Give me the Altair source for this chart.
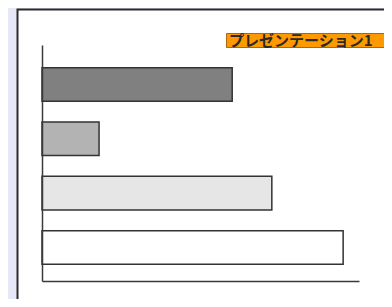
import altair as alt
import pandas as pd

categories = ["項目1", "項目2", "項目3", "項目4"]
values = [60, 18, 72.5, 95]
colors = ["#808080", "#b3b3b3", "#e6e6e6", "#ffffff"]
label_text = ["プレゼンテーション1"]

bars_df = pd.DataFrame({"cat": categories, "val": values, "col": colors})
one = pd.DataFrame({"t": label_text})

W, H = 317, 236

panel = alt.Chart(one).mark_rect(
    fill="#ffffff", stroke="#2b2b2b", strokeWidth=2
).encode(
    x=alt.value(-24.5), x2=alt.value(420), y=alt.value(-35.5), y2=alt.value(320)
)

axis_style = dict(title=None, labels=False, ticks=False, grid=False,
                  domainColor="#3a3a3a", domainWidth=1.5, zindex=1)

bars = alt.Chart(bars_df).mark_bar(stroke="#333333", strokeWidth=1.5).encode(
    y=alt.Y("cat:N", sort=categories,
            scale=alt.Scale(paddingInner=0.383, paddingOuter=0.3635, align=0.575),
            axis=alt.Axis(**axis_style)),
    x=alt.X("val:Q", scale=alt.Scale(domain=[0, 100]),
            axis=alt.Axis(**axis_style)),
    fill=alt.Fill("col:N", scale=None, legend=None),
)

label_box = alt.Chart(one).mark_rect(
    fill="#ff9900", stroke="#a86a10", strokeWidth=1
).encode(
    x=alt.value(184.5), x2=alt.value(420), y=alt.value(-11.5), y2=alt.value(2.5)
)

label = alt.Chart(one).mark_text(
    font="Noto Sans CJK JP", fontSize=15, fontWeight="bold", color="#2a2a2a",
    align="left", baseline="middle"
).encode(
    x=alt.value(187), y=alt.value(-4.5), text="t:N"
)

chart = alt.layer(panel, bars, label_box, label).properties(
    width=W, height=H,
    background="#e6e8f8",
    padding={"left": 34, "top": 37, "right": 25, "bottom": 18},
    autosize=alt.AutoSizeParams(type="none"),
).configure_view(stroke=None)

chart.save("out.html", embed_options={"renderer": "svg", "actions": False})
